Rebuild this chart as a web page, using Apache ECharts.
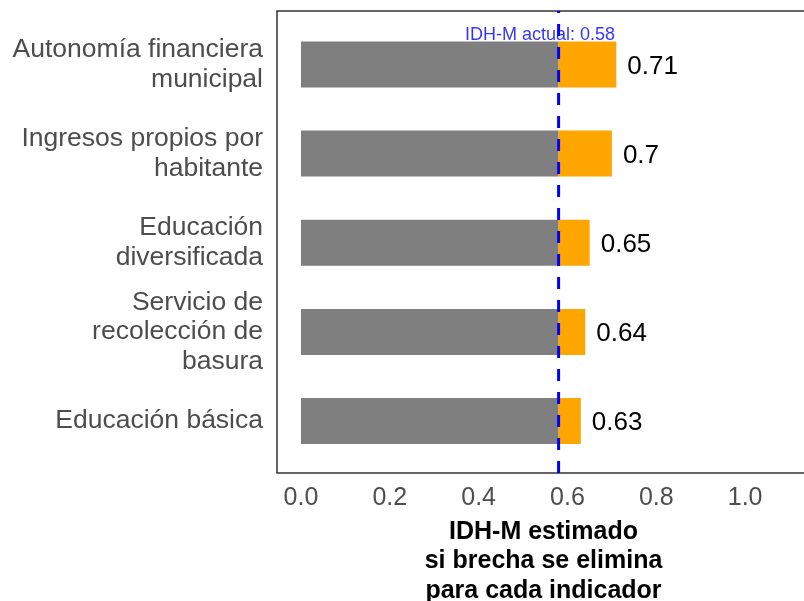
<!DOCTYPE html>
<html>
<head>
<meta charset="utf-8">
<script src="https://cdn.jsdelivr.net/npm/echarts@6/dist/echarts.min.js"></script>
<style>
  html, body { margin: 0; padding: 0; background: #fff; }
  #chart { width: 804px; height: 601px; }
</style>
</head>
<body>
<div id="chart"></div>
<script>
// indicadores (de arriba hacia abajo)
var categories = [
    'Autonomía financiera\nmunicipal',
    'Ingresos propios por\nhabitante',
    'Educación\ndiversificada',
    'Servicio de\nrecolección de\nbasura',
    'Educación básica'
];
var estimated = [0.71, 0.70, 0.65, 0.64, 0.63];
var current = 0.58;
var xTicks = [0, 0.2, 0.4, 0.6, 0.8, 1.0];
var refLabel = 'IDH-M actual: 0.58';
var refLabelPos = [0.538, 0.949];

var font = 'Liberation Sans, Arial, Helvetica, sans-serif';

var baseData = [];
var gainData = [];
for (var i = 0; i < estimated.length; i++) {
    baseData.push(current);
    gainData.push(+(estimated[i] - current).toFixed(4));
}

var myChart = echarts.init(document.getElementById('chart'));
myChart.setOption({
    animation: false,
    textStyle: {fontFamily: font},
    grid: [
        // barras
        {left: 277, right: -6, top: 19.9, bottom: 135.4, outerBoundsMode: 'none'},
        // marco del panel
        {left: 277, right: -6, top: 11, bottom: 128, outerBoundsMode: 'none',
            show: true, borderColor: '#333', borderWidth: 1.5, backgroundColor: 'transparent'}
    ],
    xAxis: [
        {
            gridIndex: 0, type: 'value', min: -0.054, max: 1.146,
            show: false, splitLine: {show: false}
        },
        {
            gridIndex: 1, type: 'value', min: -0.054, max: 1.146,
            axisLine: {show: false},
            axisTick: {show: false},
            splitLine: {show: false},
            axisLabel: {
                customValues: xTicks,
                formatter: function (v) { return v.toFixed(1); },
                fontSize: 25,
                color: '#4d4d4d',
                margin: 13,
                fontFamily: font
            },
            name: 'IDH-M estimado\nsi brecha se elimina\npara cada indicador',
            nameLocation: 'middle',
            nameGap: 44,
            nameTextStyle: {
                fontSize: 25,
                fontWeight: 'bold',
                color: '#000',
                lineHeight: 29.5,
                fontFamily: font
            }
        }
    ],
    yAxis: [
        {
            gridIndex: 0, type: 'category', inverse: true,
            data: categories,
            axisLine: {show: false},
            axisTick: {show: false},
            axisLabel: {
                fontSize: 26.5,
                color: '#4d4d4d',
                lineHeight: 29.5,
                margin: 14,
                padding: [6, 0, 0, 0],
                align: 'right',
                fontFamily: font
            }
        },
        {
            gridIndex: 1, type: 'value', min: 0, max: 1, show: false
        }
    ],
    series: [
        {
            name: 'actual',
            type: 'bar',
            stack: 'idh',
            xAxisIndex: 0, yAxisIndex: 0,
            barWidth: 46,
            itemStyle: {color: '#7f7f7f'},
            data: baseData
        },
        {
            name: 'ganancia',
            type: 'bar',
            stack: 'idh',
            xAxisIndex: 0, yAxisIndex: 0,
            barWidth: 46,
            itemStyle: {color: '#ffa500'},
            label: {
                show: true,
                position: 'right',
                distance: 11,
                offset: [0, 2],
                fontSize: 26,
                color: '#000',
                fontFamily: font,
                formatter: function (p) { return String(estimated[p.dataIndex]); }
            },
            data: gainData
        },
        {
            name: 'ref',
            type: 'line',
            xAxisIndex: 1, yAxisIndex: 1,
            symbol: 'none',
            z: 5,
            lineStyle: {color: '#0000ff', width: 3, type: [12, 11]},
            data: [[current, 0], [current, 1]]
        },
        {
            name: 'refLabel',
            type: 'scatter',
            xAxisIndex: 1, yAxisIndex: 1,
            symbolSize: 0,
            z: 6,
            label: {
                show: true,
                position: 'inside',
                fontSize: 18,
                color: '#0000ff',
                fontFamily: font,
                formatter: refLabel
            },
            data: [refLabelPos]
        }
    ]
});
</script>
</body>
</html>
